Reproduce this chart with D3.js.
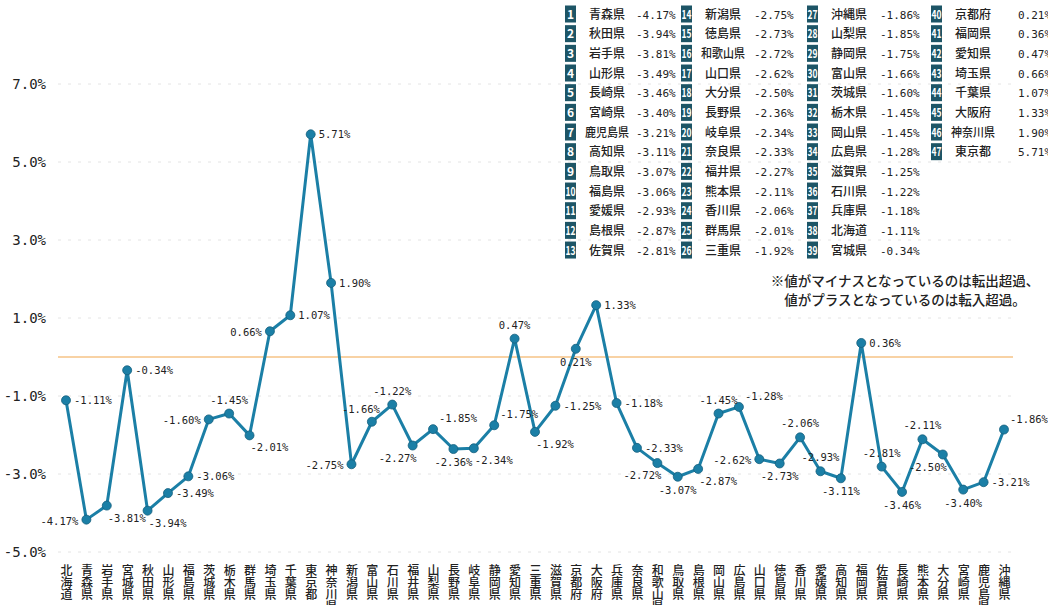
<!DOCTYPE html>
<html lang="ja">
<head>
<meta charset="utf-8">
<script src="https://cdn.jsdelivr.net/npm/d3@7/dist/d3.min.js"></script>
<style>
  html, body { margin: 0; padding: 0; background: #fff; }
  svg { display: block; }
</style>
</head>
<body>
<svg id="chart" width="1048" height="605"></svg>
<script>
// ---- data ----
const prefectures = ["北海道","青森県","岩手県","宮城県","秋田県","山形県","福島県","茨城県","栃木県","群馬県",
  "埼玉県","千葉県","東京都","神奈川県","新潟県","富山県","石川県","福井県","山梨県","長野県",
  "岐阜県","静岡県","愛知県","三重県","滋賀県","京都府","大阪府","兵庫県","奈良県","和歌山県",
  "鳥取県","島根県","岡山県","広島県","山口県","徳島県","香川県","愛媛県","高知県","福岡県",
  "佐賀県","長崎県","熊本県","大分県","宮崎県","鹿児島県","沖縄県"];
const rates = [-1.11,-4.17,-3.81,-0.34,-3.94,-3.49,-3.06,-1.60,-1.45,-2.01,
  0.66,1.07,5.71,1.90,-2.75,-1.66,-1.22,-2.27,-1.85,-2.36,
  -2.34,-1.75,0.47,-1.92,-1.25,0.21,1.33,-1.18,-2.33,-2.72,
  -3.07,-2.87,-1.45,-1.28,-2.62,-2.73,-2.06,-2.93,-3.11,0.36,
  -2.81,-3.46,-2.11,-2.50,-3.40,-3.21,-1.86];
const yTicks = [7, 5, 3, 1, -1, -3, -5];
const noteLines = ["※値がマイナスとなっているのは転出超過、", "値がプラスとなっているのは転入超過。"];

// ---- layout (label side for each point) ----
const labelSide = ["r","l","br","r","br","r","r","l","t","br",
  "l","r","r","r","l","tl","t","bl","tr","b",
  "br","tr","t","br","r","b","r","r","r","bl",
  "b","br","t","tr","l","b","t","t","b","r",
  "t","b","t","bl","b","r","tr"];

const svg = d3.select("#chart");
const lineColor = "#1b7fa6";
const monoFont = "'DejaVu Sans Mono', 'Liberation Mono', monospace";
const jpFont = "'Noto Sans CJK JP', 'Noto Sans', sans-serif";

const x = d3.scalePoint().domain(prefectures).range([66, 1004]).padding(0);
const y = d3.scaleLinear().domain([-5, 7]).range([552, 84]);

const data = prefectures.map((p, i) => ({ name: p, value: rates[i], side: labelSide[i], idx: i }));

// gridlines
svg.append("g").selectAll("line").data(yTicks).join("line")
  .attr("x1", 58).attr("x2", 1013)
  .attr("y1", d => y(d)).attr("y2", d => y(d))
  .attr("stroke", "#e4e4e4").attr("stroke-width", 1)
  .attr("stroke-dasharray", "3,7");

// y axis
const yAxis = d3.axisLeft(y).tickValues(yTicks).tickSize(0).tickPadding(0)
  .tickFormat(d => d.toFixed(1) + "%");
const gy = svg.append("g").attr("transform", "translate(46,0)").call(yAxis);
gy.select(".domain").remove();
gy.selectAll("text").attr("font-family", monoFont).attr("font-size", 14)
  .attr("fill", "#222").attr("dy", "0.35em");

// zero line
svg.append("line")
  .attr("x1", 58).attr("x2", 1013).attr("y1", y(0)).attr("y2", y(0))
  .attr("stroke", "#f2a54a").attr("stroke-width", 1.2);

// x axis (vertical labels)
const xAxis = d3.axisBottom(x).tickSize(0).tickFormat(d => d);
const gx = svg.append("g").attr("transform", "translate(0,564)").call(xAxis);
gx.select(".domain").remove();
gx.selectAll(".tick text")
  .attr("y", 0).attr("dy", null)
  .attr("text-anchor", "start")
  .style("writing-mode", "vertical-rl")
  .attr("font-family", jpFont).attr("font-size", 12).attr("font-weight", 500)
  .attr("fill", "#222");

// line
const line = d3.line().x(d => x(d.name)).y(d => y(d.value));
svg.append("path").datum(data)
  .attr("d", line).attr("fill", "none")
  .attr("stroke", lineColor).attr("stroke-width", 3).attr("stroke-linejoin", "round");

svg.append("g").selectAll("circle").data(data).join("circle")
  .attr("cx", d => x(d.name)).attr("cy", d => y(d.value)).attr("r", 4.5)
  .attr("fill", lineColor).attr("stroke", "#15607e").attr("stroke-width", 0.8);

// point labels
const off = {
  r:  { dx: 8,  dy: 4,  a: "start" },
  l:  { dx: -8, dy: 5,  a: "end" },
  t:  { dx: 0,  dy: -10, a: "middle" },
  b:  { dx: 0,  dy: 17, a: "middle" },
  tr: { dx: 6,  dy: -7, a: "start" },
  tl: { dx: 8,  dy: -9, a: "end" },
  br: { dx: 1,  dy: 16, a: "start" },
  bl: { dx: 4,  dy: 16, a: "end" }
};
svg.append("g").selectAll("text").data(data).join("text")
  .attr("x", d => x(d.name) + off[d.side].dx)
  .attr("y", d => y(d.value) + off[d.side].dy)
  .attr("text-anchor", d => off[d.side].a)
  .attr("font-family", monoFont).attr("font-size", 10.5)
  .attr("fill", "#222")
  .text(d => d.value.toFixed(2) + "%");

// ranking table
const ranked = data.slice().sort((a, b) => a.value - b.value);
const boxX = [565, 681, 807, 931];
const valX = [636, 754, 880, 1018];
const rowY = i => 14 + i * 19.67;
const tbl = svg.append("g");
ranked.forEach((d, i) => {
  const col = Math.floor(i / 13), row = i % 13;
  const cy = rowY(row);
  const bx = boxX[col];
  tbl.append("rect").attr("x", bx).attr("y", cy - 8.5).attr("width", 11).attr("height", 17)
    .attr("fill", "#1d5566");
  const num = String(i + 1);
  const nt = tbl.append("text").attr("x", bx + 5.5).attr("y", cy + 4.5)
    .attr("text-anchor", "middle").attr("font-family", jpFont).attr("font-weight", 700)
    .attr("font-size", 12).attr("fill", "#fff").text(num);
  if (num.length > 1) nt.attr("textLength", 10).attr("lengthAdjust", "spacingAndGlyphs");
  const tn = tbl.append("text").attr("x", bx + 42).attr("y", cy + 4.5)
    .attr("text-anchor", "middle").attr("font-family", jpFont).attr("font-size", 12)
    .attr("font-weight", 500).attr("fill", "#222").text(d.name);
  if (d.name.length > 3) tn.attr("textLength", 44).attr("lengthAdjust", "spacingAndGlyphs");
  tbl.append("text").attr("x", valX[col]).attr("y", cy + 4.5)
    .attr("font-family", monoFont).attr("font-size", 11).attr("fill", "#222")
    .text(d.value.toFixed(2) + "%");
});

// note (two lines)
svg.append("g").selectAll("text").data(noteLines).join("text")
  .attr("x", 905).attr("y", (d, i) => 286 + i * 19)
  .attr("text-anchor", "middle").attr("font-family", jpFont).attr("font-size", 13.5)
  .attr("font-weight", 500).attr("fill", "#222")
  .text(d => d);
</script>
</body>
</html>
